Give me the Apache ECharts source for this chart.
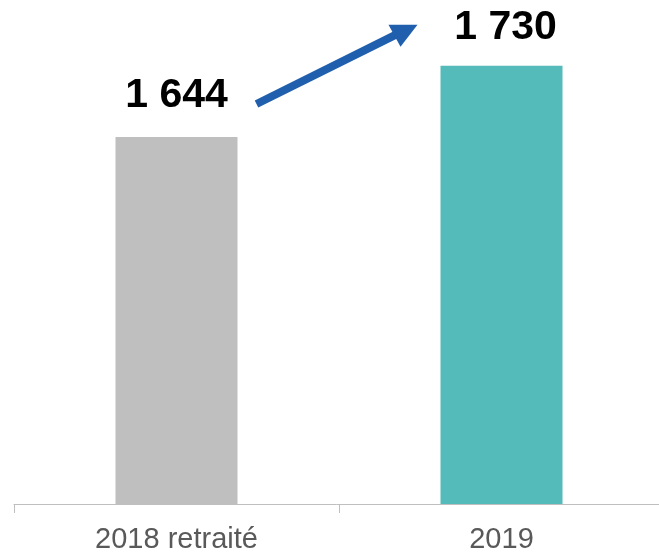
<!DOCTYPE html>
<html>
<head>
<meta charset="utf-8">
<script src="https://cdn.jsdelivr.net/npm/echarts@6/dist/echarts.min.js"></script>
<style>
  html, body { margin: 0; padding: 0; background: #fff; }
  #chart { width: 659px; height: 553px; }
</style>
</head>
<body>
<div id="chart"></div>
<script>
const categories = ["2018 retraité", "2019"];
const values = [1644, 1730];
const barColors = ["#BFBFBF", "#55BBBA"];
const labelDistance = [21, 18];
const labelShift = [0, 4];

const chart = echarts.init(document.getElementById("chart"));

const option = {
  animation: false,
  grid: { top: 8, left: 14, width: 650, bottom: 49, outerBoundsMode: "none", containLabel: false },
  xAxis: {
    type: "category",
    data: categories,
    axisLine: { lineStyle: { color: "#BFBFBF", width: 1 } },
    axisTick: { show: true, length: 9, lineStyle: { color: "#BFBFBF" } },
    axisLabel: {
      color: "#595959",
      fontSize: 29,
      fontFamily: "Liberation Sans, Arial, sans-serif",
      margin: 21
    }
  },
  yAxis: {
    type: "value",
    min: 1200,
    max: 1800,
    show: false,
    splitLine: { show: false }
  },
  series: [
    {
      type: "bar",
      barWidth: 122,
      data: values.map((v, i) => ({
        value: v,
        itemStyle: { color: barColors[i] },
        label: { distance: labelDistance[i], offset: [labelShift[i], 0] }
      })),
      label: {
        show: true,
        position: "top",
        color: "#000",
        fontSize: 41,
        fontWeight: "bold",
        fontFamily: "Liberation Sans, Arial, sans-serif",
        formatter: (p) => String(p.value).replace(/\B(?=(\d{3})+(?!\d))/g, " ")
      }
    }
  ]
};
chart.setOption(option);

// flèche entre les deux barres, placée par rapport aux barres
const p0 = chart.convertToPixel({ gridIndex: 0 }, [0, values[0]]);
const p1 = chart.convertToPixel({ gridIndex: 0 }, [1, values[1]]);
const sx = p0[0] + 80, sy = p0[1] - 33;
const tx = p1[0] - 84, ty = p1[1] - 41;
chart.setOption({
  graphic: [
    {
      type: "line",
      shape: { x1: sx, y1: sy, x2: tx - 22, y2: ty + 10 },
      style: { stroke: "#1F5FAD", lineWidth: 8 }
    },
    {
      type: "polygon",
      shape: { points: [[tx - 29, ty], [tx, ty], [tx - 17, ty + 22]] },
      style: { fill: "#1F5FAD" }
    }
  ]
});
</script>
</body>
</html>
